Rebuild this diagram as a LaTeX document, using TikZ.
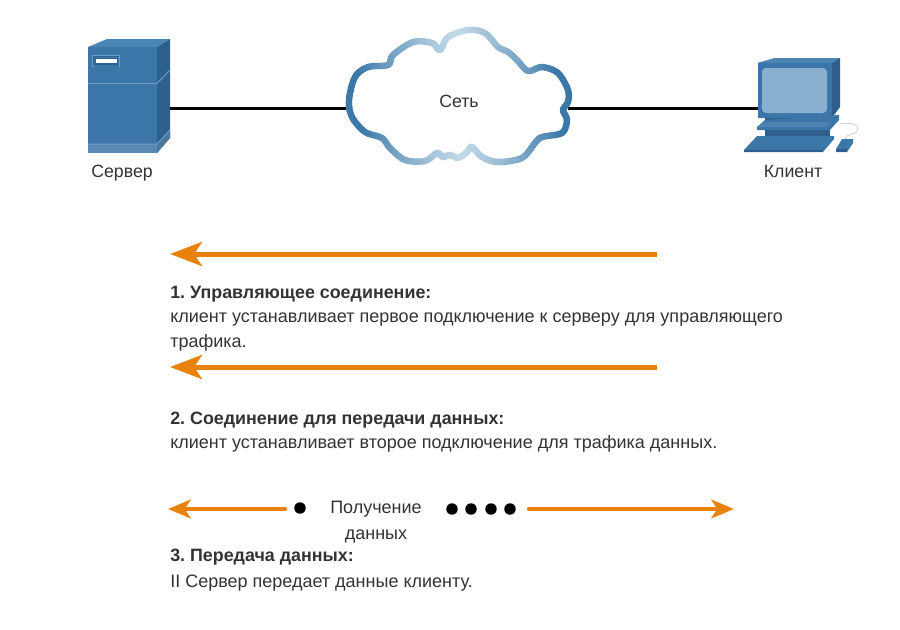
\documentclass[tikz,border=0pt]{standalone}
\usepackage{fontspec}
\setmainfont{Liberation Sans}
\usetikzlibrary{arrows.meta,calc}
\definecolor{txt}{HTML}{333333}
\definecolor{orng}{HTML}{E9820C}
\definecolor{cdark}{HTML}{3A78A8}
\definecolor{clight}{HTML}{C4DAE9}
\definecolor{bfront}{HTML}{3C76A8}
\definecolor{bside}{HTML}{2F5F8C}
\definecolor{btop}{HTML}{4A85B5}
\definecolor{bedge}{HTML}{6A9DC6}
\definecolor{bscreen}{HTML}{8AB0D0}
\newcommand{\cloudpts}{(349,100) (355,77) (368,67) (388,65) (393,55) (413,42) (432,43) (440,50) (448,37) (468,30) (485,33) (498,47) (508,52) (517,60) (528,71) (542,67) (558,73) (568,90) (568,102) (563,110) (567,120) (562,133) (542,137) (535,143) (522,158) (498,162) (482,157) (472,147) (467,152) (458,158) (450,155) (443,157) (437,153) (425,161) (405,160) (390,148) (382,138) (365,132) (352,117)}
\newcommand{\cloudxs}{{349,355,368,388,393,413,432,440,448,468,485,498,508,517,528,542,558,568,568,563,567,562,542,535,522,498,482,472,467,458,450,443,437,425,405,390,382,365,352}}
\newcommand{\cloudys}{{100,77,67,65,55,42,43,50,37,30,33,47,52,60,71,67,73,90,102,110,120,133,137,143,158,162,157,147,152,158,155,157,153,161,160,148,138,132,117}}
\newcommand{\hermite}[6]{\pgfmathsetmacro#1{(2*#6*#6*#6-3*#6*#6+1)*#3+(#6*#6*#6-2*#6*#6+#6)*0.45*(#4-#2)+(3*#6*#6-2*#6*#6*#6)*#4+(#6*#6*#6-#6*#6)*0.45*(#5-#3)}}
\tikzset{
  x=0.75pt,y=-0.75pt,
  every node/.style={font=\fontsize{13.5}{16}\selectfont,text=txt,inner sep=0pt},
  lbl/.style={anchor=base west},
  ctr/.style={anchor=base,font=\fontsize{13.3}{16}\selectfont},
  bld/.style={anchor=base west,font=\fontsize{13.4}{16}\selectfont\bfseries},
  wire/.style={line width=2.25pt,black},
  bigarrow/.style={line width=3.75pt,orng,-{Stealth[length=24pt,width=18pt,inset=6pt]}},
  smallarrow/.style={line width=3.3pt,orng,line cap=round,-{Stealth[length=17pt,width=14pt,inset=4.5pt]}},
  dot/.style={circle,fill=black,minimum size=8.6pt}
}
\begin{document}
\frenchspacing
\begin{tikzpicture}
\useasboundingbox (0,0) rectangle (900,629);
\fill[white] (0,0) rectangle (900,629);
% anchors for the devices
\node[minimum width=82*0.75pt,minimum height=114*0.75pt] (server) at (129,96) {};
\node[minimum width=219*0.75pt,minimum height=132*0.75pt] (cloud) at (458.5,96) {};
\node[minimum width=82*0.75pt,minimum height=95*0.75pt] (client) at (799,105) {};
% connectors
\draw[wire] (server.east |- 0,108) -- (cloud.west |- 0,108);
\draw[wire] (cloud.east |- 0,108) -- (client.west |- 0,108);
% server
\fill[bfront] (88,47) rectangle (157,153);
\fill[btop] (88,47) -- (107,39) -- (170,39) -- (157,47) -- cycle;
\fill[bside] (157,47) -- (170,39) -- (170,138) -- (157,153) -- cycle;
\fill[bfront!85!white] (88,144) rectangle (157,153);
\fill[bside!85!white] (157,144) -- (170,130) -- (170,138) -- (157,153) -- cycle;
\draw[bedge,line width=0.75pt] (88,83.5) -- (157,83.5) -- (170,70);
\draw[bedge,line width=0.75pt] (88,144) -- (157,144) -- (170,130);
\fill[bedge] (92,55) rectangle (120,67);
\fill[bside] (93,56) rectangle (119,66);
\fill[bfront] (94,57) rectangle (119,67);
\fill[bside] (95,58) rectangle (118,64.5);
\fill[white] (96,59) rectangle (117,63);
% cloud: interior, then an outline whose colour follows the distance from the middle
\path[fill=white] plot[smooth cycle,tension=0.6] coordinates {\cloudpts};
\foreach \i in {0,...,38}{
  \pgfmathtruncatemacro\ia{mod(\i+38,39)}
  \pgfmathtruncatemacro\ib{mod(\i+1,39)}
  \pgfmathtruncatemacro\ic{mod(\i+2,39)}
  \pgfmathsetmacro\xa{\cloudxs[\ia]}\pgfmathsetmacro\ya{\cloudys[\ia]}
  \pgfmathsetmacro\xb{\cloudxs[\i]}\pgfmathsetmacro\yb{\cloudys[\i]}
  \pgfmathsetmacro\xc{\cloudxs[\ib]}\pgfmathsetmacro\yc{\cloudys[\ib]}
  \pgfmathsetmacro\xd{\cloudxs[\ic]}\pgfmathsetmacro\yd{\cloudys[\ic]}
  \foreach \s in {0,...,4}{
    \pgfmathsetmacro\ts{\s/5}
    \pgfmathsetmacro\tt{(\s+1)/5}
    \hermite{\px}{\xa}{\xb}{\xc}{\xd}{\ts}
    \hermite{\py}{\ya}{\yb}{\yc}{\yd}{\ts}
    \hermite{\qx}{\xa}{\xb}{\xc}{\xd}{\tt}
    \hermite{\qy}{\ya}{\yb}{\yc}{\yd}{\tt}
    \pgfmathsetmacro\tval{abs((\px+\qx)/2-459)/100}
    \pgfmathsetmacro\mixv{min(100,100*\tval*(0.7+0.3*\tval))}
    \draw[cdark!\mixv!clight,line width=4.8pt,line cap=round] (\px,\py) -- (\qx,\qy);
  }
}
% client
\fill[bfront] (758,63) -- (775,58) -- (840,58) -- (832,63) -- (832,118) -- (758,118) -- cycle;
\fill[btop] (758,63) -- (775,58) -- (840,58) -- (832,63) -- cycle;
\fill[bside] (832,63) -- (840,58) -- (840,107) -- (832,118) -- cycle;
\fill[bscreen,rounded corners=3pt] (762,68) rectangle (827,113);
\fill[bside] (765,118) rectangle (830,122);
\fill[bfront] (757,127) -- (765,120) -- (839,115) -- (839,120) -- (830,130) -- (757,130) -- cycle;
\fill[bedge!30!bfront] (757,127) -- (765,122) -- (832,122) -- (826,127) -- cycle;
\fill[bside] (765,130) rectangle (830,136);
\fill[bfront] (744,152) -- (744,150) -- (757,136) -- (834,136) -- (834,139) -- (823,152) -- cycle;
\fill[bside] (744,150) -- (823,150) -- (823,152) -- (744,152) -- cycle;
\draw[black!28,line width=0.35pt] (840,124) .. controls (850,122) and (859,124) .. (858,130) .. controls (857,135) and (846,133) .. (845,139);
\fill[bfront] (836,152) -- (836,149) -- (842,139) -- (853,139) -- (853,143) -- (847,152) -- cycle;
\fill[bside] (836,149) -- (847,149) -- (847,152) -- (836,152) -- cycle;
% labels
\node[ctr] (lserver) at (122,177) {Сервер};
\node[ctr] (lcloud) at (459,107) {Сеть};
\node[ctr] (lclient) at (793,177) {Клиент};
% arrows
\coordinate (a1s) at (657,254); \coordinate (a1e) at (170,254);
\coordinate (a2s) at (657,367); \coordinate (a2e) at (170,367);
\draw[bigarrow] (a1s) -- (a1e);
\draw[bigarrow] (a2s) -- (a2e);
\node[bld] (t1) at (170,298) {1. Управляющее соединение:};
\node[lbl] (t1a) at (170,322) {клиент устанавливает первое подключение к серверу для управляющего};
\node[lbl] (t1b) at (170,347) {трафика.};
\node[bld] (t2) at (170,424) {2. Соединение для передачи данных:};
\node[lbl] (t2a) at (170,448) {клиент устанавливает второе подключение для трафика данных.};
% data row
\coordinate (a3s) at (285,509); \coordinate (a3e) at (168,509);
\coordinate (a4s) at (529,509); \coordinate (a4e) at (734,509);
\draw[smallarrow] (a3s) -- (a3e);
\draw[smallarrow] (a4s) -- (a4e);
\node[dot] (d0) at (300,508) {};
\node[dot] (d1) at (452,509) {};
\node[dot] (d2) at (471,509) {};
\node[dot] (d3) at (491,509) {};
\node[dot] (d4) at (510,509) {};
\node[ctr,font=\fontsize{13.5}{16}\selectfont] (p1) at (376,513) {Получение};
\node[ctr,font=\fontsize{13.5}{16}\selectfont] (p2) at (376,539) {данных};
\node[bld] (t3) at (170,561) {3. Передача данных:};
\node[lbl] (t3a) at (170,587) {II Сервер передает данные клиенту.};
\end{tikzpicture}
\end{document}
